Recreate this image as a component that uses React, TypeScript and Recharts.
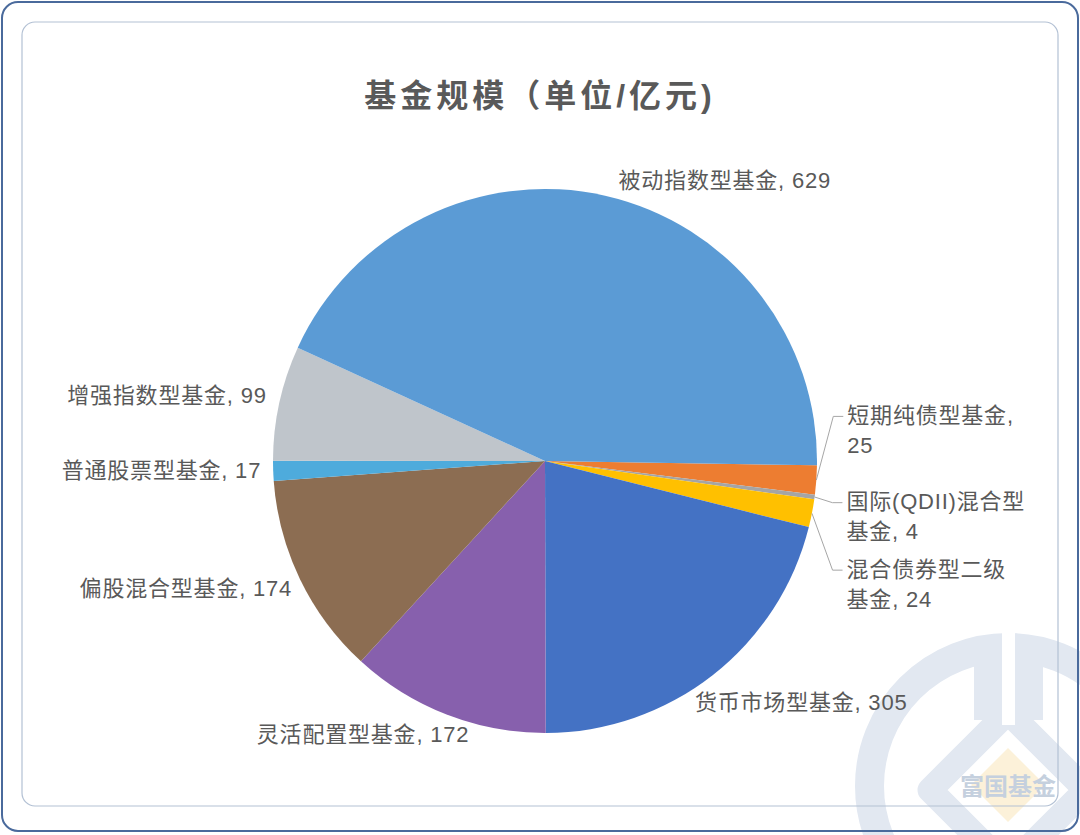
import { Cell, Pie, PieChart } from "recharts";

const categories = [
  "短期纯债型基金",
  "国际(QDII)混合型基金",
  "混合债券型二级基金",
  "货币市场型基金",
  "灵活配置型基金",
  "偏股混合型基金",
  "普通股票型基金",
  "增强指数型基金",
  "被动指数型基金",
];
const sizes = [25, 4, 24, 305, 172, 174, 17, 99, 629];
const colors = ["#ED7D31", "#A5A5A5", "#FFC000", "#4472C4", "#8760AD", "#8C6D52", "#4EABDC", "#BFC5CB", "#5B9BD5"];

const data = categories.map((name, i) => ({ name, value: sizes[i] }));

const TEXT = "#595959";
const FONT = '"Liberation Sans", "Noto Sans CJK SC", sans-serif';

// label placement relative to the slice's mid-angle point (Excel "best fit" look)
// split = how many name chars stay on the first line
const LABEL_LAYOUT = [
  { anchor: "start", dx: 11, dy: -66, split: 7, leader: true },
  { anchor: "start", dx: 12, dy: 2, split: 11, leader: true },
  { anchor: "start", dx: 15, dy: 52, split: 7, leader: true },
  { anchor: "start", dx: -30, dy: 12 },
  { anchor: "end", dx: 30, dy: 1 },
  { anchor: "end", dx: 10, dy: 0 },
  { anchor: "end", dx: 8, dy: -1 },
  { anchor: "end", dx: 7, dy: -3 },
  { anchor: "start", dx: 9, dy: 4 },
] as const;

const RAD = Math.PI / 180;

function renderLabel(props: any) {
  const { cx, cy, midAngle, outerRadius, index, name, value } = props;
  const at = (r: number) => ({
    x: cx + r * Math.cos(-midAngle * RAD),
    y: cy + r * Math.sin(-midAngle * RAD),
  });
  const p = at(outerRadius + 20);
  const lay: any = LABEL_LAYOUT[index];
  const x = p.x + lay.dx;
  const y = p.y + lay.dy;
  const style = { fontSize: 22, fill: TEXT, fontFamily: FONT, letterSpacing: 0.8 };

  if (!lay.split) {
    return (
      <text key={name} x={x} y={y} textAnchor={lay.anchor} dominantBaseline="central" style={style}>
        {`${name}, ${value}`}
      </text>
    );
  }
  const first = lay.split >= name.length ? `${name},` : name.slice(0, lay.split);
  const second = lay.split >= name.length ? `${value}` : `${name.slice(lay.split)}, ${value}`;
  const edge = at(outerRadius);
  return (
    <g key={name}>
      {lay.leader && (
        <polyline
          points={`${edge.x},${edge.y} ${x - 14},${y + 1} ${x - 4},${y + 1}`}
          fill="none"
          stroke="#A6A6A6"
          strokeWidth={1}
        />
      )}
      <text x={x} y={y} textAnchor={lay.anchor} dominantBaseline="central" style={style}>
        {first}
      </text>
      <text x={x} y={y + 30} textAnchor={lay.anchor} dominantBaseline="central" style={style}>
        {second}
      </text>
    </g>
  );
}

function Backdrop() {
  const ring = "#E2E8F1";
  return (
    <svg width={1080} height={835} style={{ position: "absolute", left: 0, top: 0 }}>
      <rect x={0} y={0} width={1080} height={835} fill="#fff" />
      {/* watermark logo */}
      <circle cx={1008} cy={786} r={138.5} fill="none" stroke={ring} strokeWidth={29} />
      <polygon
        points="1008,712 930,790 1008,868 1086,790"
        fill="none"
        stroke={ring}
        strokeWidth={25}
        strokeLinejoin="round"
      />
      <rect x={974} y={655} width={28} height={65} fill={ring} />
      <rect x={1015} y={655} width={28} height={65} fill={ring} />
      <rect x={1002} y={625} width={13} height={100} fill="#fff" />
      <polygon points="1008,748 1045,785 1008,822 971,785" fill="#FCF1D9" />
      <text
        x={1008}
        y={786}
        textAnchor="middle"
        dominantBaseline="central"
        style={{ fontSize: 24, fontWeight: 700, fill: "#C5D0DE", fontFamily: FONT }}
      >
        富国基金
      </text>
      {/* frames */}
      <rect x={22} y={22} width={1036} height={784} rx={13} fill="none" stroke="#B3C1D4" strokeWidth={1.2} />
      <rect x={2} y={2} width={1076} height={829} rx={16} fill="none" stroke="#4A6A9C" strokeWidth={2} />
      <text
        x={540}
        y={96}
        textAnchor="middle"
        dominantBaseline="central"
        style={{ fontSize: 32, fontWeight: 700, fill: TEXT, fontFamily: FONT, letterSpacing: 4 }}
      >
        基金规模（单位/亿元)
      </text>
    </svg>
  );
}

export default function App() {
  return (
    <div style={{ position: "absolute", left: 0, top: 0, width: 1080, height: 835 }}>
      <Backdrop />
      <div style={{ position: "absolute", left: 0, top: 0 }}>
        <PieChart width={1080} height={835} margin={{ top: 0, right: 0, bottom: 0, left: 0 }}>
          <Pie
            data={data}
            dataKey="value"
            nameKey="name"
            cx={545}
            cy={461}
            outerRadius={272}
            startAngle={-0.9}
            endAngle={-360.9}
            stroke="none"
            label={renderLabel}
            labelLine={false}
            isAnimationActive={false}
          >
            {data.map((d, i) => (
              <Cell key={d.name} fill={colors[i]} />
            ))}
          </Pie>
        </PieChart>
      </div>
    </div>
  );
}
